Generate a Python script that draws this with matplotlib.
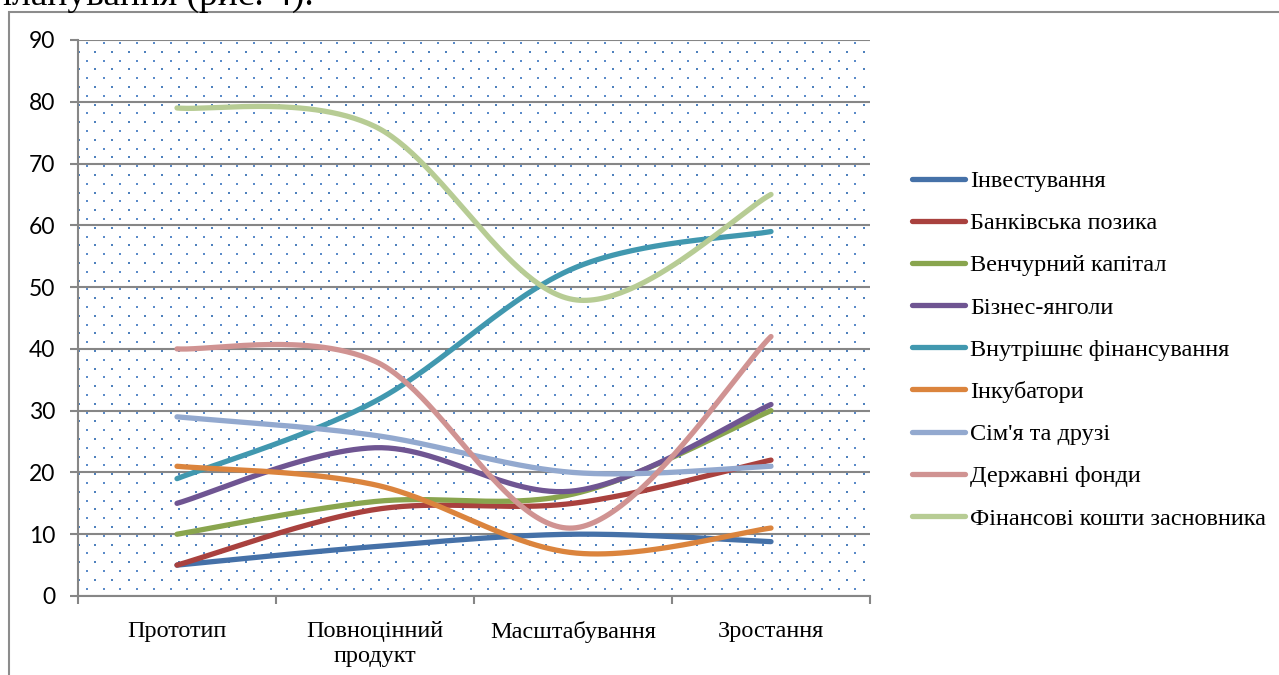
import numpy as np
import matplotlib
matplotlib.use("Agg")
import matplotlib.pyplot as plt
from matplotlib.lines import Line2D
from matplotlib.patches import Rectangle

categories = ["Прототип", "Повноцінний\nпродукт", "Масштабування", "Зростання"]
series_names = ["Інвестування", "Банківська позика", "Венчурний капітал", "Бізнес-янголи",
                "Внутрішнє фінансування", "Інкубатори", "Сім'я та друзі", "Державні фонди",
                "Фінансові кошти засновника"]
investing = [5, 8, 10, 8.8]
bank_loan = [5, 14, 15, 22]
venture = [10, 15.3, 16.5, 30]
angels = [15, 24, 17, 31]
internal = [19, 31.5, 53, 59]
incubators = [21, 18, 7, 11]
family = [29, 26, 20, 21]
state_funds = [40, 38, 11, 42]
founder = [79, 76, 48, 65]
series_values = [investing, bank_loan, venture, angels, internal, incubators, family,
                 state_funds, founder]
colors = ["#4571A8", "#A9413E", "#89A54E", "#6F5592", "#4198AF", "#DB843D", "#93A9CF",
          "#D09392", "#B7CC94"]
yticks = list(range(0, 91, 10))

W, H = 1279, 675
fig = plt.figure(figsize=(W / 100, H / 100), dpi=100)

# document text cut at the top
fig.text(-8 / W, 1 - 5 / H, "планування (рис. 4).", family="Liberation Serif",
         fontsize=27, va="baseline", ha="left")
# chart frame
fig.patches.append(Rectangle((9 / W, -0.1), 1.2, 1.1 - 12 / H, transform=fig.transFigure,
                             fill=False, edgecolor="#8C8C8C", linewidth=1.5, zorder=0))

ax_l, ax_b, ax_w, ax_h = 78, 596, 792, 556
ax = fig.add_axes([ax_l / W, (H - ax_b) / H, ax_w / W, ax_h / H])
ax.set_xlim(-0.5, 3.5)
ax.set_ylim(0, 90)

# dotted background pattern
dx, dy = 16.7, 8.8
xs_a, ys_a, xs_b, ys_b = [], [], [], []
r = 0
yy = 3.0
while yy < ax_h:
    off = 9.0 if r % 2 == 0 else 9.0 + dx / 2
    xx = off - dx
    while xx < ax_w:
        if xx > 0:
            if r % 2 == 0:
                xs_a.append(xx / ax_w); ys_a.append(1 - yy / ax_h)
            else:
                xs_b.append(xx / ax_w); ys_b.append(1 - yy / ax_h)
        xx += dx
    yy += dy
    r += 1
ax.scatter(xs_a, ys_a, s=1.6, marker="s", color="#5B8BC9", linewidths=0,
           transform=ax.transAxes, zorder=0)
ax.scatter(xs_b, ys_b, s=2.6, marker="s", color="#4F81BD", linewidths=0,
           transform=ax.transAxes, zorder=0)


def excel_smooth(y, n=60):
    x = np.arange(len(y), dtype=float)
    y = np.asarray(y, dtype=float)
    px, py = [], []
    m = len(y)
    for i in range(m - 1):
        x0, y0 = x[i], y[i]
        x3, y3 = x[i + 1], y[i + 1]
        xm1, ym1 = (x[i - 1], y[i - 1]) if i > 0 else (x0, y0)
        xp2, yp2 = (x[i + 2], y[i + 2]) if i + 2 < m else (x3, y3)
        x1, y1 = x0 + (x3 - xm1) / 6, y0 + (y3 - ym1) / 6
        x2, y2 = x3 - (xp2 - x0) / 6, y3 - (yp2 - y0) / 6
        t = np.linspace(0, 1, n)
        bx = (1 - t) ** 3 * x0 + 3 * (1 - t) ** 2 * t * x1 + 3 * (1 - t) * t ** 2 * x2 + t ** 3 * x3
        by = (1 - t) ** 3 * y0 + 3 * (1 - t) ** 2 * t * y1 + 3 * (1 - t) * t ** 2 * y2 + t ** 3 * y3
        px.extend(bx); py.extend(by)
    return np.array(px), np.array(py)


for name, vals, c in zip(series_names, series_values, colors):
    sx, sy = excel_smooth(vals)
    ax.plot(sx, sy, color=c, lw=3.8, solid_capstyle="round", zorder=3, label=name)

grid_c = "#868686"
ax.set_yticks(yticks)
ax.set_yticklabels([str(v) for v in yticks], family="Lato", fontsize=16.5)
ax.yaxis.grid(True, color=grid_c, lw=1.5, zorder=1)
ax.set_axisbelow(True)
ax.set_xticks(np.arange(-0.5, 4.0, 1.0))
ax.set_xticklabels([])
ax.set_xticks(range(len(categories)), minor=True)
ax.set_xticklabels(categories, minor=True, family="Liberation Serif", fontsize=17.5)
for t in ax.get_xticklabels(minor=True):
    t.set_linespacing(1.25)
ax.tick_params(axis="y", length=5.5, width=1.5, color=grid_c, pad=11)
ax.tick_params(axis="x", which="major", length=5.5, width=1.5, color=grid_c)
ax.tick_params(axis="x", which="minor", length=0, pad=18)
for s in ["top", "right"]:
    ax.spines[s].set_visible(False)
for s in ["left", "bottom"]:
    ax.spines[s].set_color(grid_c)
    ax.spines[s].set_linewidth(1.5)
ax.set_facecolor("none")

handles = [Line2D([0], [0], color=c, lw=3.8, solid_capstyle="round") for c in colors]
leg = fig.legend(handles, series_names, loc="upper left",
                 bbox_to_anchor=(912 / W, 1 - 170 / H), frameon=False,
                 prop={"family": "Liberation Serif", "size": 17.5},
                 handlelength=2.2, handletextpad=0.2, labelspacing=0.83,
                 borderaxespad=0, borderpad=0)

fig.savefig("out.png", dpi=100)
